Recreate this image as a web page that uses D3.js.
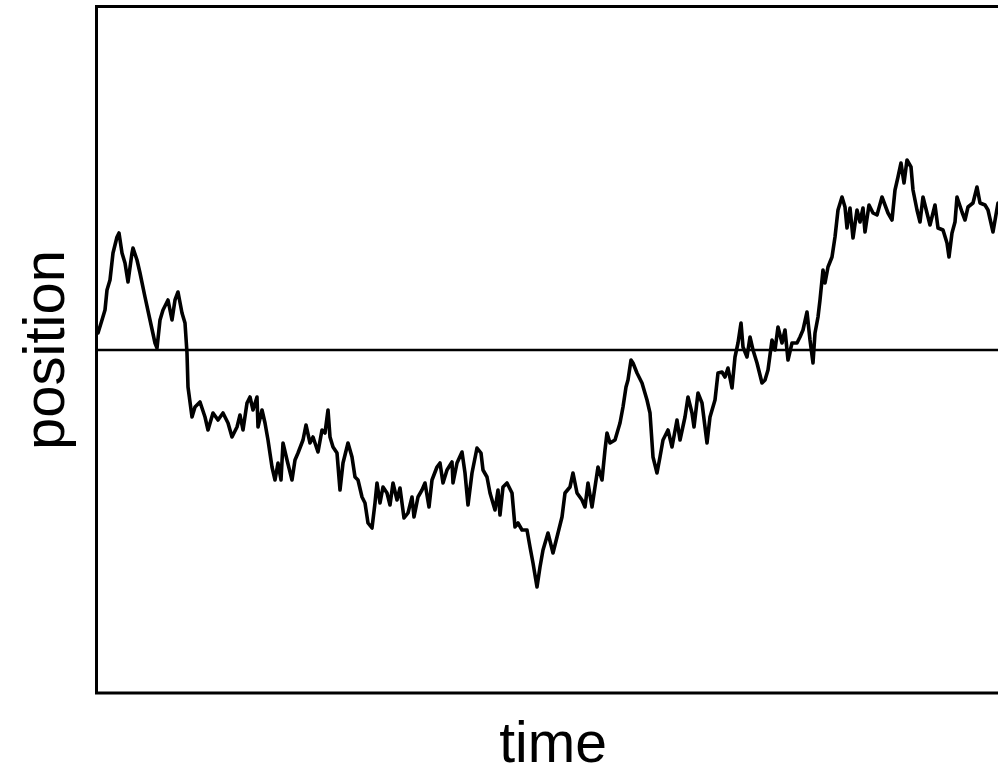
<!DOCTYPE html>
<html>
<head>
<meta charset="utf-8">
<script src="https://cdn.jsdelivr.net/npm/d3@7"></script>
<style>
  html, body { margin: 0; padding: 0; background: #fff; overflow: hidden; }
  svg { display: block; }
</style>
</head>
<body>
<svg id="chart" width="998" height="767"></svg>
<script>
// Random-walk trace: step index and position
const time = [
  1,5,8,10,13,16,20,22,25,28,31,35,36,40,43,48,53,58,60,63,
  66,71,75,78,81,85,88,90,91,95,98,103,108,111,116,121,126,131,135,140,
  143,146,150,153,156,160,161,165,168,171,175,178,181,184,186,190,195,198,201,206,
  209,213,216,221,225,228,231,233,236,240,243,246,251,255,258,261,265,268,271,275,
  278,280,283,286,290,293,296,300,303,307,311,315,317,321,325,328,332,335,340,343,
  346,350,355,356,360,365,368,371,375,380,384,386,390,393,398,401,403,406,410,415,
  418,421,425,430,433,436,440,443,446,451,456,460,465,468,473,476,480,485,488,491,
  495,498,501,505,508,510,513,518,523,526,529,531,534,536,540,545,550,553,556,560,
  563,566,571,575,580,583,588,591,595,597,601,605,610,613,618,621,625,628,631,635,
  638,641,644,646,650,653,656,660,665,668,671,675,678,681,685,688,691,695,700,703,
  706,710,713,716,718,721,723,726,728,731,735,738,741,745,748,750,753,756,760,763,
  766,768,772,776,780,785,788,791,795,798,801,804,807,810,814,816,820,823,826,830,
  833,838,841,846,850,852,855,858,860,865,868,871,876,880,883,888,891,896,901
];
const position = [
  0.17,0.30,0.40,0.60,0.70,0.97,1.13,1.17,0.97,0.87,0.68,0.97,1.02,0.90,0.77,0.53,0.30,0.07,0.02,0.30,
  0.40,0.50,0.30,0.50,0.58,0.37,0.27,-0.03,-0.37,-0.67,-0.57,-0.52,-0.67,-0.80,-0.63,-0.70,-0.63,-0.73,-0.87,-0.77,
  -0.65,-0.80,-0.53,-0.47,-0.60,-0.47,-0.77,-0.60,-0.73,-0.90,-1.17,-1.30,-1.13,-1.30,-0.93,-1.10,-1.30,-1.10,-1.03,-0.90,
  -0.75,-0.93,-0.87,-1.02,-0.80,-0.83,-0.60,-0.87,-0.97,-1.03,-1.40,-1.13,-0.93,-1.07,-1.27,-1.30,-1.47,-1.53,-1.73,-1.78,
  -1.53,-1.33,-1.53,-1.37,-1.43,-1.55,-1.33,-1.50,-1.38,-1.68,-1.63,-1.47,-1.67,-1.47,-1.40,-1.33,-1.57,-1.30,-1.17,-1.13,
  -1.33,-1.20,-1.12,-1.33,-1.13,-1.02,-1.23,-1.55,-1.23,-0.98,-1.03,-1.20,-1.27,-1.43,-1.60,-1.40,-1.65,-1.37,-1.33,-1.43,
  -1.77,-1.73,-1.80,-1.80,-1.97,-2.13,-2.37,-2.17,-2.00,-1.83,-2.03,-1.87,-1.67,-1.43,-1.37,-1.23,-1.43,-1.50,-1.57,-1.33,
  -1.57,-1.37,-1.17,-1.30,-1.00,-0.83,-0.93,-0.90,-0.73,-0.57,-0.37,-0.30,-0.10,-0.13,-0.23,-0.33,-0.50,-0.63,-1.07,-1.23,
  -1.07,-0.90,-0.80,-0.97,-0.70,-0.90,-0.67,-0.47,-0.63,-0.77,-0.43,-0.53,-0.93,-0.67,-0.50,-0.23,-0.22,-0.27,-0.18,-0.38,
  -0.07,0.07,0.27,0.03,-0.07,0.13,0.00,-0.13,-0.33,-0.30,-0.20,0.10,0.00,0.23,0.07,0.20,-0.10,0.07,0.07,0.13,
  0.20,0.38,0.10,-0.13,0.17,0.33,0.50,0.80,0.67,0.83,0.93,1.13,1.40,1.53,1.43,1.22,1.42,1.12,1.40,1.28,
  1.42,1.18,1.45,1.37,1.35,1.53,1.45,1.37,1.30,1.60,1.73,1.87,1.67,1.90,1.83,1.60,1.40,1.28,1.53,1.37,
  1.25,1.45,1.22,1.20,1.07,0.93,1.17,1.28,1.53,1.38,1.30,1.43,1.47,1.63,1.47,1.45,1.40,1.18,1.47
];
const xLabel = "time";
const yLabel = "position";

const svg = d3.select("#chart");
const W = 998, H = 767;
const plotLeft = 97, plotTop = 8, plotBottom = 692;

const x = d3.scaleLinear().domain([0, 901]).range([plotLeft, W]);
const y = d3.scaleLinear().domain([-3.42, 3.42]).range([plotBottom, plotTop]);

const data = time.map((t, i) => ({ t, v: position[i] }));

// Plot frame (open to the right, extending past the edge)
svg.append("path")
  .attr("fill", "none").attr("stroke", "#000").attr("stroke-width", 3)
  .attr("stroke-linejoin", "miter")
  .attr("d", `M${x(920)},${y(3.42) - 1.5}H${plotLeft - 0.5}V${y(-3.42) + 1}H${x(920)}`);

// Zero reference line
svg.append("line")
  .attr("x1", plotLeft).attr("x2", x(920))
  .attr("y1", y(0)).attr("y2", y(0))
  .attr("stroke", "#000").attr("stroke-width", 2.5);

// Walk trace
svg.append("path")
  .datum(data)
  .attr("fill", "none")
  .attr("stroke", "#000")
  .attr("stroke-width", 3.6)
  .attr("stroke-linejoin", "round")
  .attr("stroke-linecap", "round")
  .attr("d", d3.line().x(d => x(d.t)).y(d => y(d.v)));

// Axis titles
svg.append("text")
  .attr("x", 553).attr("y", 762)
  .attr("text-anchor", "middle")
  .attr("font-family", "Liberation Sans, Arial, Helvetica, sans-serif")
  .attr("font-size", 57)
  .text(xLabel);

svg.append("text")
  .attr("transform", `translate(64,${y(0)}) rotate(-90)`)
  .attr("text-anchor", "middle")
  .attr("font-family", "Liberation Sans, Arial, Helvetica, sans-serif")
  .attr("font-size", 58)
  .text(yLabel);
</script>
</body>
</html>
